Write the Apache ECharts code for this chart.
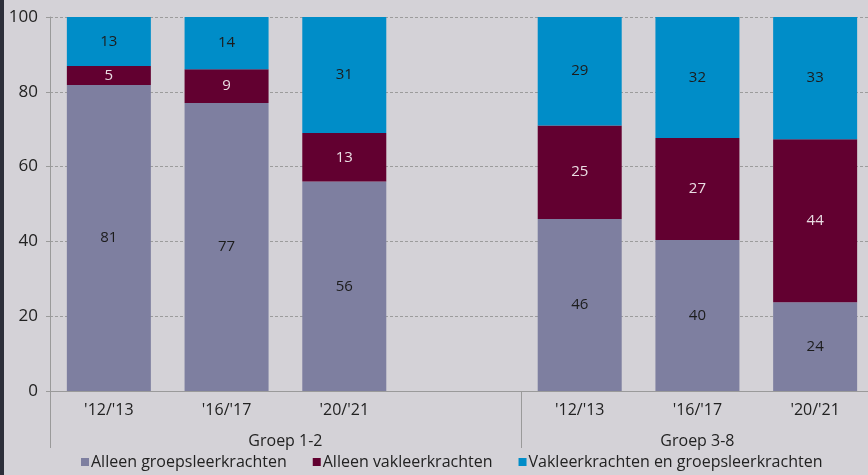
<!DOCTYPE html>
<html>
<head>
<meta charset="utf-8">
<script src="https://cdn.jsdelivr.net/npm/echarts@6/dist/echarts.min.js"></script>
<style>
    html, body { margin: 0; padding: 0; background: #2d2f3a; overflow: hidden; }
    #main { position: absolute; left: 4px; top: 0; width: 870px; height: 475px; background: #d4d2d7; }
</style>
</head>
<body>
<div id="main"></div>
<script>
    // jaren per groep, lege kolom tussen de groepen
    var categories = ["'12/'13", "'16/'17", "'20/'21", '', "'12/'13", "'16/'17", "'20/'21"];
    var groups = ['Groep 1-2', 'Groep 3-8'];
    var seriesNames = ['Alleen groepsleerkrachten', 'Alleen vakleerkrachten', 'Vakleerkrachten en groepsleerkrachten'];
    var alleenGroep = [81, 77, 56, null, 46, 40, 24];
    var alleenVak = [5, 9, 13, null, 25, 27, 44];
    var beide = [13, 14, 31, null, 29, 32, 33];
    var yTicks = [0, 20, 40, 60, 80, 100];

    var colors = ['#7e7fa0', '#620030', '#008dc8'];
    var raw = [alleenGroep, alleenVak, beide];

    // balken lopen tot 100%, labels tonen de afgeronde waarden
    function share(arr, i) {
        var tot = alleenGroep[i] + alleenVak[i] + beide[i];
        return arr[i] == null ? null : arr[i] / tot * 100;
    }

    var chartDom = document.getElementById('main');
    var myChart = echarts.init(chartDom);
    var font = 'Open Sans';

    var series = raw.map(function (arr, s) {
        return {
            name: seriesNames[s],
            type: 'bar',
            stack: 'tot',
            barWidth: 84,
            data: arr.map(function (v, i) { return share(arr, i); }),
            itemStyle: { color: colors[s] },
            label: {
                show: true,
                position: 'inside',
                fontFamily: font,
                fontSize: 15,
                color: s === 1 ? '#eadde3' : '#1c1c1c',
                formatter: function (p) { return raw[s][p.dataIndex]; }
            }
        };
    });

    var option = {
        animation: false,
        textStyle: { fontFamily: font },
        color: colors,
        grid: { left: 46, right: 0, top: 17, bottom: 84 },
        legend: {
            bottom: 0,
            left: 72,
            icon: 'rect',
            itemWidth: 8,
            itemHeight: 8,
            itemGap: 26,
            textStyle: { fontFamily: font, fontSize: 16, color: '#222', padding: [0, 0, 0, -3] },
            data: seriesNames
        },
        xAxis: [{
            type: 'category',
            data: categories,
            axisLine: { lineStyle: { color: '#9a9a9a', width: 1 } },
            axisTick: { length: 29, lineStyle: { color: '#9a9a9a' } },
            axisLabel: { margin: 11, fontSize: 16, color: '#222', fontFamily: font }
        }, {
            type: 'value',
            position: 'bottom',
            min: 0,
            max: 7,
            axisLine: { show: false },
            splitLine: { show: false },
            axisTick: { show: true, customValues: [0, 4], length: 57, lineStyle: { color: '#9a9a9a' } },
            axisLabel: {
                customValues: [2, 5.5],
                margin: 42,
                fontSize: 16,
                color: '#222',
                fontFamily: font,
                formatter: function (v) { return v < 4 ? groups[0] : groups[1]; }
            }
        }],
        yAxis: {
            type: 'value',
            min: yTicks[0],
            max: yTicks[yTicks.length - 1],
            interval: 20,
            axisLine: { show: true, lineStyle: { color: '#9a9a9a' } },
            axisTick: { show: true, length: 4, lineStyle: { color: '#9a9a9a' } },
            axisLabel: { margin: 12, fontSize: 17, color: '#222', fontFamily: font },
            splitLine: { lineStyle: { color: '#9c9c9c', type: [3, 2] } }
        },
        series: series
    };

    option && myChart.setOption(option);
</script>
</body>
</html>
